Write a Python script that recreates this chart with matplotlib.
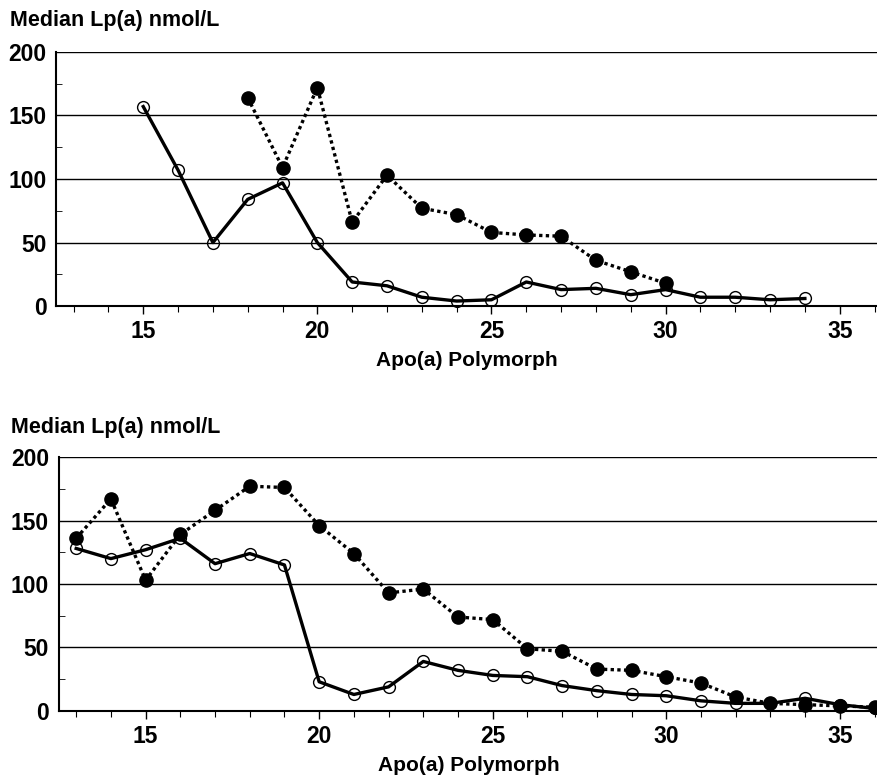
import numpy as np
import matplotlib.pyplot as plt

# data
top_open_x = [15, 16, 17, 18, 19, 20, 21, 22, 23, 24, 25, 26, 27, 28, 29, 30, 31, 32, 33, 34]
top_open_y = [157, 107, 50, 84, 97, 50, 19, 16, 7, 4, 5, 19, 13, 14, 9, 13, 7, 7, 5, 6]
top_fill_x = [18, 19, 20, 21, 22, 23, 24, 25, 26, 27, 28, 29, 30]
top_fill_y = [164, 109, 172, 66, 103, 77, 72, 58, 56, 55, 36, 27, 18]

bot_open_x = [13, 14, 15, 16, 17, 18, 19, 20, 21, 22, 23, 24, 25, 26, 27, 28, 29, 30, 31, 32, 33, 34, 35, 36]
bot_open_y = [128, 120, 127, 136, 116, 124, 115, 23, 13, 19, 39, 32, 28, 27, 20, 16, 13, 12, 8, 6, 6, 10, 5, 2]
bot_fill_x = [13, 14, 15, 16, 17, 18, 19, 20, 21, 22, 23, 24, 25, 26, 27, 28, 29, 30, 31, 32, 33, 34, 35, 36]
bot_fill_y = [136, 167, 103, 139, 158, 177, 176, 146, 124, 93, 96, 74, 72, 49, 47, 33, 32, 27, 22, 11, 6, 5, 4, 3]

y_ticks = [0, 50, 100, 150, 200]
x_ticks = [15, 20, 25, 30, 35]

plt.rcParams['font.family'] = ['Liberation Sans', 'DejaVu Sans']
plt.rcParams['font.weight'] = 'bold'

fig = plt.figure(figsize=(8.78, 7.75), dpi=100)
ax1 = fig.add_axes([0.064, 0.605, 0.936, 0.328])
ax2 = fig.add_axes([0.067, 0.0826, 0.933, 0.3277])


def style(ax):
    ax.set_xlim(12.5, 36.1)
    ax.set_ylim(0, 200)
    ax.set_yticks(y_ticks)
    ax.set_yticks(np.arange(25, 200, 50), minor=True)
    ax.set_xticks(x_ticks)
    ax.set_xticks(np.arange(13, 37, 1), minor=True)
    for s in ['top', 'right']:
        ax.spines[s].set_visible(False)
    ax.spines['left'].set_linewidth(1.5)
    ax.spines['bottom'].set_linewidth(1.5)
    ax.yaxis.grid(True, color='black', linewidth=1.0)
    ax.set_axisbelow(True)
    ax.tick_params(axis='y', which='major', length=0, pad=7, labelsize=16.5)
    ax.tick_params(axis='y', which='minor', direction='in', length=4)
    ax.tick_params(axis='x', which='major', length=6, width=1, pad=4, labelsize=16.5)
    ax.tick_params(axis='x', which='minor', length=4, width=0.8)
    ax.set_xlabel('Apo(a) Polymorph', fontsize=15, fontweight='bold', labelpad=6)


for ax, ox, oy, fx, fy in [(ax1, top_open_x, top_open_y, top_fill_x, top_fill_y),
                           (ax2, bot_open_x, bot_open_y, bot_fill_x, bot_fill_y)]:
    style(ax)
    ax.plot(fx, fy, color='black', linestyle=(0, (1, 1)), linewidth=2.4,
            marker='o', markersize=9.5, markerfacecolor='black', markeredgecolor='black',
            clip_on=False, zorder=3)
    ax.plot(ox, oy, color='black', linestyle='-', linewidth=2.4,
            marker='o', markersize=8.5, markerfacecolor='none', markeredgecolor='black',
            markeredgewidth=1.0, clip_on=False, zorder=4)

fig.text(0.011, 0.974, 'Median Lp(a) nmol/L', fontsize=15.5, fontweight='bold', va='center')
fig.text(0.013, 0.449, 'Median Lp(a) nmol/L', fontsize=15.5, fontweight='bold', va='center')

fig.savefig('out.png', dpi=100)
